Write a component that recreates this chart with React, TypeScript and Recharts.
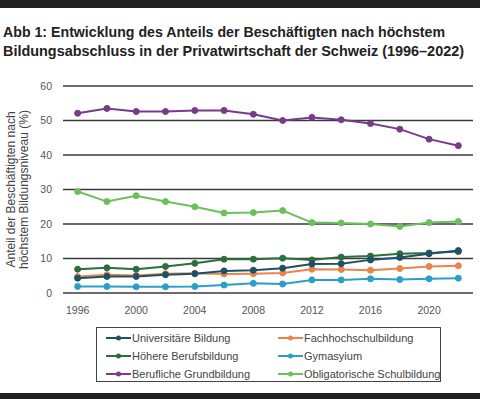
import React from "react";
import { LineChart, Line, XAxis, YAxis, CartesianGrid } from "recharts";

const years = [1996, 1998, 2000, 2002, 2004, 2006, 2008, 2010, 2012, 2014, 2016, 2018, 2020, 2022];
const xTicks = [1996, 2000, 2004, 2008, 2012, 2016, 2020];
const yTicks = [0, 10, 20, 30, 40, 50, 60];

const universitaer = [4.3, 4.8, 4.8, 5.3, 5.6, 6.4, 6.6, 7.2, 8.4, 8.5, 9.6, 10.3, 11.4, 12.3];
const fachhochschul = [4.8, 5.3, 5.1, 5.6, 5.7, 5.5, 5.6, 5.8, 6.9, 6.8, 6.6, 7.1, 7.7, 7.9];
const hoehere = [6.9, 7.3, 6.9, 7.7, 8.6, 9.8, 9.8, 10.1, 9.6, 10.4, 10.7, 11.4, 11.6, 12.0];
const gymnasium = [1.9, 1.9, 1.8, 1.8, 1.9, 2.3, 2.8, 2.6, 3.8, 3.8, 4.1, 3.9, 4.1, 4.3];
const berufliche = [52.1, 53.5, 52.6, 52.6, 52.9, 52.9, 51.8, 50.0, 50.9, 50.2, 49.1, 47.5, 44.6, 42.7];
const obligatorisch = [29.4, 26.5, 28.2, 26.5, 25.0, 23.2, 23.3, 23.9, 20.4, 20.3, 20.0, 19.3, 20.4, 20.7];

const series = [
  { key: "obligatorisch", name: "Obligatorische Schulbildung", values: obligatorisch, color: "#6cbf5c" },
  { key: "berufliche", name: "Berufliche Grundbildung", values: berufliche, color: "#7a3a8a" },
  { key: "gymnasium", name: "Gymasyium", values: gymnasium, color: "#2a9fc9" },
  { key: "fachhochschul", name: "Fachhochschulbildung", values: fachhochschul, color: "#e8864a" },
  { key: "hoehere", name: "Höhere Berufsbildung", values: hoehere, color: "#2d6e3e" },
  { key: "universitaer", name: "Universitäre Bildung", values: universitaer, color: "#1e5068" },
];

// legend order as in the reference (two columns)
const legendOrder = [
  "universitaer",
  "fachhochschul",
  "hoehere",
  "gymnasium",
  "berufliche",
  "obligatorisch",
];

const data = years.map((year, i) => {
  const row: Record<string, number> = { year };
  series.forEach((s) => {
    row[s.key] = s.values[i];
  });
  return row;
});

const font = "'Liberation Sans', Arial, sans-serif";

function YLabel(props: any) {
  const cy = props.viewBox ? props.viewBox.y + props.viewBox.height / 2 : 190;
  return (
    <g fill="#444" fontSize={12} fontFamily={font}>
      <text x={15} y={cy} transform={`rotate(-90 15 ${cy})`} textAnchor="middle">
        Anteil der Beschäftigten nach
      </text>
      <text x={28} y={cy} transform={`rotate(-90 28 ${cy})`} textAnchor="middle">
        höchstem Bildungsniveau (%)
      </text>
    </g>
  );
}

export default function App() {
  return (
    <div
      style={{
        position: "fixed",
        left: 0,
        top: 0,
        width: 480,
        height: 399,
        background: "#fff",
        overflow: "hidden",
        fontFamily: font,
      }}
    >
      <div style={{ position: "absolute", left: 0, top: 0, width: 480, height: 8, background: "#222" }} />
      <div style={{ position: "absolute", left: 0, top: 393, width: 480, height: 6, background: "#222" }} />

      <svg style={{ position: "absolute", left: 0, top: 0 }} width={480} height={70}>
        <g fontFamily={font} fontWeight="bold" fontSize={15} fill="#222" transform="translate(3 0) scale(0.85 1)">
          <text x={0} y={37} textLength={442 / 0.85} lengthAdjust="spacingAndGlyphs">
            Abb 1: Entwicklung des Anteils der Beschäftigten nach höchstem
          </text>
          <text x={0} y={56} textLength={461 / 0.85} lengthAdjust="spacingAndGlyphs">
            Bildungsabschluss in der Privatwirtschaft der Schweiz (1996–2022)
          </text>
        </g>
      </svg>

      <div style={{ position: "absolute", left: 0, top: 0 }}>
        <LineChart
          width={480}
          height={399}
          data={data}
          margin={{ top: 86, right: 7, bottom: 76, left: 0 }}
        >
          <CartesianGrid vertical={false} stroke="#3a3a3a" strokeWidth={1.5} />
          <XAxis
            dataKey="year"
            type="number"
            domain={[1995, 2023]}
            ticks={xTicks}
            axisLine={false}
            tickLine={false}
            tickSize={0}
            tickMargin={14}
            height={30}
            tick={{ fontSize: 10.5, fill: "#555", fontFamily: font }}
          />
          <YAxis
            domain={[0, 60]}
            ticks={yTicks}
            axisLine={false}
            tickLine={false}
            tickSize={0}
            tickMargin={11}
            width={63}
            tick={{ fontSize: 10.5, fill: "#555", fontFamily: font }}
            label={<YLabel />}
          />
          {series.map((s) => (
            <Line
              key={s.key}
              dataKey={s.key}
              name={s.name}
              stroke={s.color}
              strokeWidth={2}
              dot={{ r: 3, fill: s.color, stroke: s.color, strokeWidth: 1 }}
              isAnimationActive={false}
            />
          ))}
        </LineChart>
      </div>

      <div
        style={{
          position: "absolute",
          left: 96,
          top: 327,
          width: 345,
          height: 55,
          border: "1.5px solid #444",
          boxSizing: "border-box",
        }}
      >
        {legendOrder.map((key, i) => {
          const s = series.find((x) => x.key === key)!;
          const col = i % 2;
          const row = Math.floor(i / 2);
          return (
            <div
              key={key}
              style={{
                position: "absolute",
                left: col === 0 ? 9 : 181,
                top: 2 + row * 18,
                height: 16,
                display: "flex",
                alignItems: "center",
                fontSize: 11,
                color: "#444",
                whiteSpace: "nowrap",
              }}
            >
              <svg width={25} height={8} style={{ marginRight: 1 }}>
                <line x1={0} y1={4} x2={25} y2={4} stroke={s.color} strokeWidth={2} />
                <circle cx={12.5} cy={4} r={2.5} fill={s.color} />
              </svg>
              {s.name}
            </div>
          );
        })}
      </div>
    </div>
  );
}
